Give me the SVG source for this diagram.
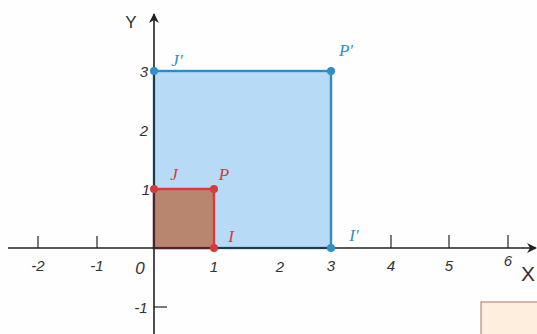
<svg xmlns="http://www.w3.org/2000/svg" width="537" height="334" viewBox="0 0 537 334">
<defs>
<marker id="arr" viewBox="0 0 10 10" refX="9" refY="5" markerWidth="10" markerHeight="10" markerUnits="userSpaceOnUse" orient="auto">
<path d="M0,0 L10,5 L0,10 L3,5 Z" fill="#222"/>
</marker>
</defs>
<style>
.ax{stroke:#222;stroke-width:1.6;fill:none}
.tk{stroke:#222;stroke-width:1.2}
.num{font-family:"Liberation Sans",Arial,sans-serif;font-size:15px;font-style:italic;fill:#333;text-anchor:middle}
.axl{font-family:"Liberation Sans",Arial,sans-serif;fill:#333;text-anchor:middle;font-weight:300}
.lb{font-family:"Liberation Serif","Times New Roman",serif;font-size:17px;font-style:italic;text-anchor:middle}
.blue{fill:#2f8fc8}
.red{fill:#d83a3a}
</style>
<rect width="537" height="334" fill="#fefefe"/>
<g id="image-square">
<rect x="154" y="71" width="177" height="177" fill="#b7dbf7" stroke="#2e8cc4" stroke-width="2.4"/>
</g>
<g id="original-square">
<rect x="154" y="189" width="60" height="59" fill="#b8866f" stroke="#d83a3a" stroke-width="2.4"/>
</g>
<g id="axes">
<line class="ax" x1="8" y1="248" x2="536" y2="248" marker-end="url(#arr)"/>
<line class="ax" x1="154" y1="334" x2="154" y2="14" marker-end="url(#arr)"/>
<line class="tk" x1="38" y1="236" x2="38" y2="248"/>
<line class="tk" x1="97" y1="236" x2="97" y2="248"/>
<line class="tk" x1="391" y1="235" x2="391" y2="248"/>
<line class="tk" x1="449" y1="235" x2="449" y2="248"/>
<line class="tk" x1="508" y1="235" x2="508" y2="248"/>
<line class="tk" x1="154" y1="307" x2="167" y2="307"/>
<text class="num" x="38" y="271">-2</text>
<text class="num" x="97" y="271">-1</text>
<text class="num" x="140" y="274" style="font-size:17px">0</text>
<text class="num" x="214" y="272">1</text>
<text class="num" x="280" y="272">2</text>
<text class="num" x="331" y="271">3</text>
<text class="num" x="391" y="271">4</text>
<text class="num" x="449" y="271">5</text>
<text class="num" x="508" y="266">6</text>
<text class="axl" x="528" y="281" style="font-size:21px">X</text>
<text class="axl" x="131" y="28" style="font-size:17px">Y</text>
<text class="num" x="144" y="77">3</text>
<text class="num" x="144" y="136">2</text>
<text class="num" x="146" y="195">1</text>
<text class="num" x="141" y="313">-1</text>
</g>
<g id="point-J-prime"><circle class="blue" cx="154" cy="71" r="4"/><text class="lb blue" x="177" y="66">J′</text></g>
<g id="point-P-prime"><circle class="blue" cx="331" cy="71" r="4"/><text class="lb blue" x="346" y="56">P′</text></g>
<g id="point-I-prime"><circle class="blue" cx="331" cy="248" r="4"/><text class="lb blue" x="354" y="241">I′</text></g>
<g id="point-J"><circle class="red" cx="154" cy="189" r="4"/><text class="lb red" x="174" y="180">J</text></g>
<g id="point-P"><circle class="red" cx="214" cy="189" r="4"/><text class="lb red" x="224" y="180">P</text></g>
<g id="point-I"><circle class="red" cx="214" cy="248" r="4"/><text class="lb red" x="231" y="242">I</text></g>
<rect x="481" y="302" width="60" height="40" fill="#fdeedd" stroke="#b07060" stroke-width="1"/>
</svg>
